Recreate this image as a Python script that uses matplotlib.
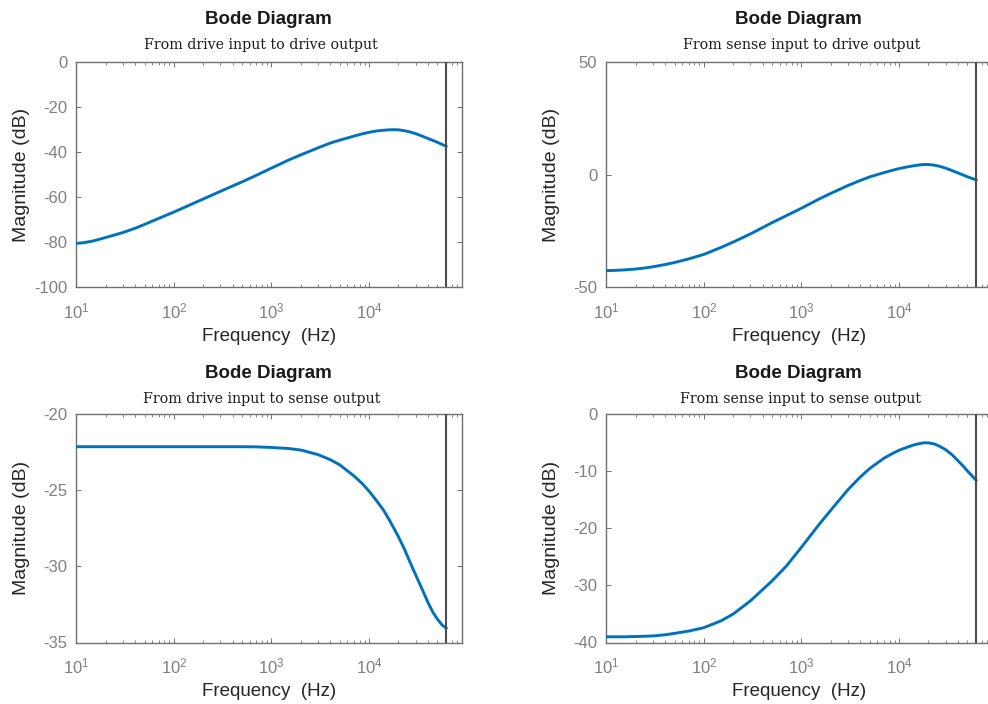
import matplotlib
matplotlib.use("Agg")
import matplotlib.pyplot as plt
from matplotlib.ticker import FixedLocator, LogLocator, NullFormatter

# ---------------- data ----------------
freq_hz = [10, 12, 15, 20, 25, 30, 40, 50, 70, 100, 150, 200, 300, 500, 700,
           1000, 1500, 2000, 3000, 4000, 5000, 7000, 8500, 10000, 12000, 14000,
           16000, 18000, 20000, 23000, 26000, 30000, 35000, 40000, 45000, 50000,
           56000, 62000]

mag_drive_drive = [-80.5, -80.2, -79.4, -77.9, -76.7, -75.7, -73.8, -72.1, -69.4,
                   -66.6, -63.2, -60.8, -57.4, -53.2, -50.3, -47.1, -43.5, -41.2,
                   -38.1, -36.0, -34.7, -32.9, -31.9, -31.2, -30.6, -30.3, -30.1,
                   -30.05, -30.1, -30.5, -31.0, -31.8, -32.9, -33.9, -34.8, -35.6,
                   -36.6, -37.4]

mag_sense_drive = [-42.6, -42.5, -42.3, -41.9, -41.4, -40.9, -39.9, -39.0, -37.4,
                   -35.4, -32.3, -29.9, -26.3, -21.3, -18.2, -14.9, -10.9, -8.3,
                   -4.8, -2.6, -1.0, 0.9, 1.9, 2.7, 3.4, 3.9, 4.3, 4.5, 4.5, 4.2,
                   3.7, 2.9, 1.8, 0.8, -0.1, -0.9, -1.7, -2.3]

mag_drive_sense = [-22.13, -22.13, -22.13, -22.13, -22.13, -22.13, -22.13, -22.13,
                   -22.13, -22.13, -22.13, -22.13, -22.13, -22.13, -22.14, -22.18,
                   -22.25, -22.35, -22.65, -22.98, -23.32, -24.05, -24.55, -25.05,
                   -25.7, -26.28, -26.9, -27.5, -28.05, -28.85, -29.65, -30.55,
                   -31.5, -32.35, -33.0, -33.45, -33.85, -34.05]

mag_sense_sense = [-39.0, -39.0, -39.0, -38.95, -38.9, -38.85, -38.65, -38.4, -38.0,
                   -37.4, -36.2, -35.0, -32.7, -29.2, -26.6, -23.3, -19.4, -16.8,
                   -13.2, -11.0, -9.5, -7.7, -6.9, -6.3, -5.8, -5.4, -5.15, -5.0,
                   -5.0, -5.2, -5.6, -6.2, -7.1, -8.1, -9.0, -9.9, -10.8, -11.6]

subtitles = ["From drive input to drive output", "From sense input to drive output",
             "From drive input to sense output", "From sense input to sense output"]
series = [mag_drive_drive, mag_sense_drive, mag_drive_sense, mag_sense_sense]
ylims = [(-100, 0), (-50, 50), (-35, -20), (-40, 0)]
yticks = [[-100, -80, -60, -40, -20, 0], [-50, 0, 50],
          [-35, -30, -25, -20], [-40, -30, -20, -10, 0]]
xticks = [10, 100, 1000, 10000]
xticklabels = [r"$\mathregular{10^{1}}$", r"$\mathregular{10^{2}}$",
               r"$\mathregular{10^{3}}$", r"$\mathregular{10^{4}}$"]
x_limits = (10, 8.9e4)
nyquist_hz = 62000

# ---------------- style ----------------
plt.rcParams['font.family'] = ['Liberation Sans', 'DejaVu Sans']
LINE_BLUE = '#0072BD'
TICK_GRAY = '#808080'
FRAME_GRAY = '#707070'
LABEL_DARK = '#262626'

W, H = 988, 704
fig = plt.figure(figsize=(W / 100, H / 100), dpi=100)

# axes boxes in pixels: (left, top, right, bottom)
boxes_px = [(76.3, 62.0, 461.7, 287.3), (606.3, 62.0, 991.7, 287.3),
            (76.3, 414.3, 461.7, 642.5), (606.3, 414.3, 991.7, 642.5)]
title_y_px = [19.0, 19.0, 373.5, 373.5]
subtitle_y_px = [45.0, 45.0, 398.7, 398.7]
title_x_px = [268.5, 798.5, 268.5, 798.5]
subtitle_x_px = [260.5, 802.0, 262.0, 800.5]

for i, (box, ys, sub) in enumerate(zip(boxes_px, series, subtitles)):
    l, t, r, b = box
    ax = fig.add_axes([l / W, 1 - b / H, (r - l) / W, (b - t) / H])
    ax.plot(freq_hz, ys, color=LINE_BLUE, lw=2.1, solid_capstyle='round',
            solid_joinstyle='round', zorder=3)
    ax.axvline(nyquist_hz, color='#4d4d4d', lw=1.5, zorder=4)
    ax.set_xscale('log')
    ax.set_xlim(*x_limits)
    ax.set_ylim(*ylims[i])
    ax.set_yticks(yticks[i])
    ax.set_yticklabels([str(v) for v in yticks[i]])
    ax.xaxis.set_major_locator(FixedLocator(xticks))
    ax.set_xticklabels(xticklabels)
    ax.xaxis.set_minor_locator(LogLocator(base=10, subs=range(2, 10), numticks=20))
    ax.xaxis.set_minor_formatter(NullFormatter())
    right_col = r > W
    ax.tick_params(axis='both', which='major', direction='in', length=3.5, width=0.7,
                   color=FRAME_GRAY, labelcolor=TICK_GRAY, labelsize=12,
                   top=True, right=not right_col)
    ax.tick_params(axis='x', which='major', pad=10)
    ax.tick_params(axis='y', which='major', pad=6.5)
    ax.tick_params(axis='x', which='minor', direction='in', length=2, width=0.6,
                   color=FRAME_GRAY, top=True)
    for sp in ax.spines.values():
        sp.set_color(FRAME_GRAY)
        sp.set_linewidth(1.0)

    hpx = b - t
    wpx = r - l
    ax.set_xlabel("Frequency  (Hz)", fontsize=13.5, color=LABEL_DARK, va='center')
    ax.xaxis.set_label_coords(0.5, -(49.5 / hpx))
    ax.set_ylabel("Magnitude (dB)", fontsize=14, color=LABEL_DARK, va='center')
    ax.yaxis.set_label_coords(-(54.5 / wpx), 0.5)

    fig.text(title_x_px[i] / W, 1 - title_y_px[i] / H, "Bode Diagram",
             ha='center', va='center', fontsize=13.5, fontweight='bold',
             color='#1a1a1a')
    fig.text(subtitle_x_px[i] / W, 1 - subtitle_y_px[i] / H, sub,
             ha='center', va='center', fontsize=10.2, family=['DejaVu Serif'],
             color='#1a1a1a')

fig.savefig("out.png", dpi=100)
